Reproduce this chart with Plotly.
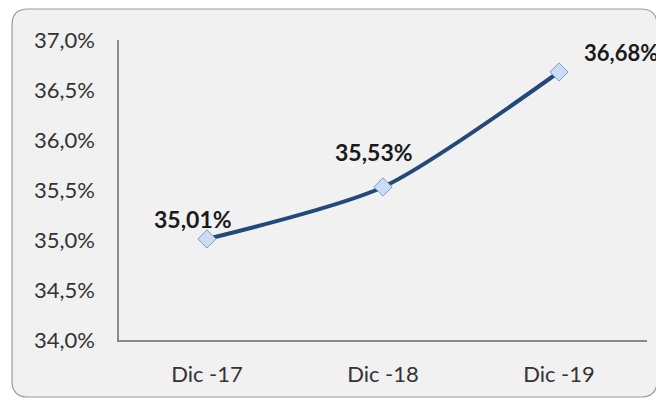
import plotly.graph_objects as go

categories = ["Dic -17", "Dic -18", "Dic -19"]
values = [35.01, 35.53, 36.68]
y_ticks = [34.0, 34.5, 35.0, 35.5, 36.0, 36.5, 37.0]

label_texts = [f"{v:.2f}".replace(".", ",") + "%" for v in values]
y_tick_text = [f"{v:.1f}".replace(".", ",") + "%" for v in y_ticks]

W, H = 656, 393
ML, MR, MT, MB = 111, 17, 32, 61
PW, PH = W - ML - MR, H - MT - MB

fig = go.Figure()
fig.add_trace(go.Scatter(
    x=categories, y=values, mode="lines+markers",
    line=dict(color="#23487a", width=4, shape="spline", smoothing=0.7),
    marker=dict(symbol="diamond", size=14, color="#c9dcf3",
                line=dict(color="#7d9cc6", width=1)),
    hoverinfo="skip", showlegend=False,
))

shifts = [(-14, 20, "center", 23), (-9, 35, "center", 23), (23, 20, "left", 22)]
for cat, v, t, (dx, dy, xa, fs) in zip(categories, values, label_texts, shifts):
    fig.add_annotation(x=cat, y=v, text=f"<b>{t}</b>", showarrow=False,
                       xshift=dx, yshift=dy, xanchor=xa, yanchor="middle",
                       font=dict(family="Lato", size=fs, color="#1a1a1a"))

# rounded chart-area border (pixel coords converted to paper coords)
x0p, x1p, y0p, y1p = 4, 649, 1, 389
r = 16
def px(x):
    return (x - ML) / PW
def py(y):
    return (H - MB - y) / PH
path = (f"M {px(x0p + r)},{py(y0p)} L {px(x1p - r)},{py(y0p)} "
        f"Q {px(x1p)},{py(y0p)} {px(x1p)},{py(y0p + r)} "
        f"L {px(x1p)},{py(y1p - r)} Q {px(x1p)},{py(y1p)} {px(x1p - r)},{py(y1p)} "
        f"L {px(x0p + r)},{py(y1p)} Q {px(x0p)},{py(y1p)} {px(x0p)},{py(y1p - r)} "
        f"L {px(x0p)},{py(y0p + r)} Q {px(x0p)},{py(y0p)} {px(x0p + r)},{py(y0p)} Z")
fig.add_shape(type="path", xref="paper", yref="paper", path=path,
              line=dict(color="#9a9a9a", width=1.2), fillcolor="#f1f1f1",
              layer="below")

fig.update_layout(
    width=W, height=H,
    margin=dict(l=ML, r=MR, t=MT, b=MB),
    paper_bgcolor="white", plot_bgcolor="#f1f1f1",
    font=dict(family="Lato", color="#333333", size=22),
    xaxis=dict(type="category", range=[-0.5, 2.5], showgrid=False,
               showline=True, linecolor="#8a8a8a", linewidth=1.5,
               ticks="", tickfont=dict(size=22), zeroline=False,
               ticklabelstandoff=14),
    yaxis=dict(range=[34, 37], tickvals=y_ticks, ticktext=y_tick_text,
               showgrid=False, showline=True,
               linecolor="#8a8a8a", linewidth=1.5, ticks="",
               tickfont=dict(size=22), zeroline=False,
               ticklabelstandoff=18),
)

fig.write_html("out.html")
